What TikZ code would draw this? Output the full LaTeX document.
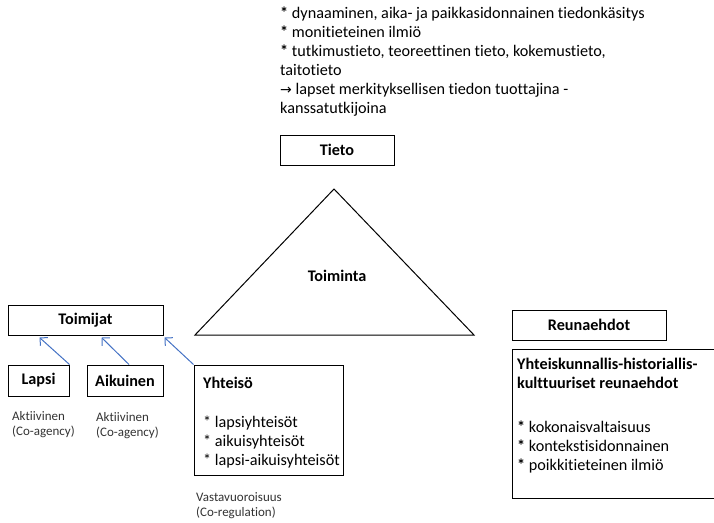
\documentclass[tikz,border=0pt]{standalone}
\usepackage{fontspec}
\setmainfont{Carlito}[Ligatures=NoCommon]
\newfontfamily\arrowfont{DejaVu Sans}
\definecolor{arrblue}{RGB}{68,114,196}
\usetikzlibrary{arrows.meta,positioning}
\newcommand{\bodyfont}{\fontsize{16.2}{19}\selectfont}
\newcommand{\notefont}{\fontsize{13}{14.5}\selectfont}

\begin{document}
\begin{tikzpicture}[x=1pt,y=-1pt,
  box/.style={draw,line width=1pt,inner sep=0pt,font=\bodyfont\bfseries},
  txt/.style={inner sep=0pt,align=left,anchor=north west,font=\bodyfont},
  note/.style={inner sep=0pt,align=left,anchor=north west,font=\notefont,text=black!80},
  arr/.style={draw=arrblue,line width=1pt,-{Straight Barb[length=5.5pt,width=11pt]}}]
  \clip (0,0) rectangle (714,522);
  %% Tieto
  \node[txt] (tietotxt) at (280,6.5)
        {\textbf{*} dynaaminen, aika- ja paikkasidonnainen tiedonkäsitys\\
         \textbf{*} monitieteinen ilmiö\\
         \textbf{*} tutkimustieto, teoreettinen tieto, kokemustieto,\\
         taitotieto\\
         {\arrowfont\fontsize{14}{14}\selectfont →} lapset merkityksellisen tiedon tuottajina -\\
         kanssatutkijoina};
  \node[box,minimum width=114,minimum height=30] (tieto) at (337,150) {Tieto};
  %% Toiminta
  \coordinate (apex) at (334,189);
  \coordinate (baseL) at (195,335);
  \coordinate (baseR) at (474,335);
  \draw[line width=1pt] (apex) -- (baseR) -- (baseL) -- cycle;
  \node[font=\bodyfont\bfseries] (toiminta) at (337,276) {Toiminta};
  %% Toimijat
  \node[box,minimum width=155,minimum height=30] (toimijat) at (85.5,320) {Toimijat};
  \node[box,minimum width=61,minimum height=31] (lapsi) at (38.5,380.5) {Lapsi};
  \node[box,minimum width=76,minimum height=31] (aikuinen) at (125,380.5) {Aikuinen};
  \node[box,minimum width=149,minimum height=110] (yhteiso) at (268.5,420) {};
  \node[txt] (yhteisotxt) at (203,376.5)
        {\textbf{Yhteisö}\\[20pt]
         * lapsiyhteisöt\\
         * aikuisyhteisöt\\
         * lapsi-aikuisyhteisöt};
  \node[note] (lapsinote) at (12,411.5) {Aktiivinen\\(Co-agency)};
  \node[note] (aikuinennote) at (96,412.5) {Aktiivinen\\(Co-agency)};
  \node[note] (yhteisonote) at (196,492.5) {Vastavuoroisuus\\(Co-regulation)};
  \draw[arr] (lapsi.north east) -- ([shift={(32,2)}]toimijat.south west);
  \draw[arr] ([shift={(4,0)}]aikuinen.north) -- ([shift={(94,2)}]toimijat.south west);
  \draw[arr] (yhteiso.north west) -- ([shift={(1,2)}]toimijat.south east);
  %% Reunaehdot
  \node[box,minimum width=154,minimum height=30] (reunaehdot) at (589,325) {Reunaehdot};
  \node[box,minimum width=220,minimum height=149] (ehdot) at (622,423.5) {};
  \node[txt] (ehdottxt) at (517,358)
        {\textbf{Yhteiskunnallis-historiallis-}\\
         \textbf{kulttuuriset reunaehdot}\\[25pt]
         \textbf{*} kokonaisvaltaisuus\\
         \textbf{*} kontekstisidonnainen\\
         \textbf{*} poikkitieteinen ilmiö};
\end{tikzpicture}
\end{document}
